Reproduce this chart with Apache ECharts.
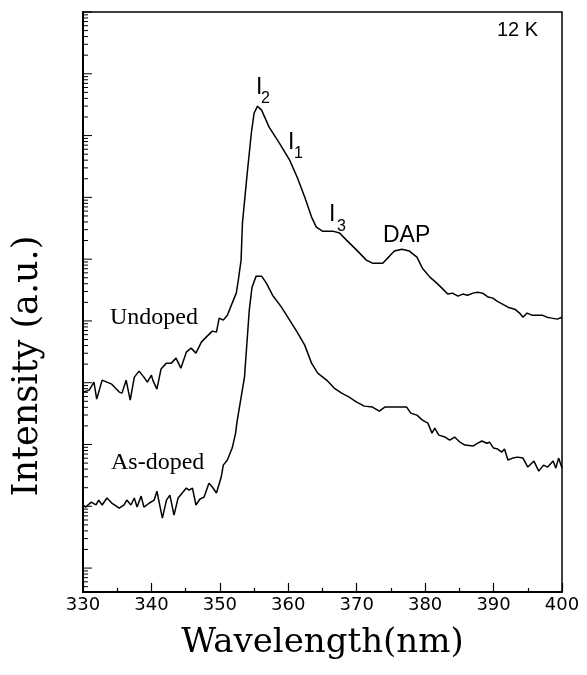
<!DOCTYPE html>
<html>
<head>
<meta charset="utf-8">
<script src="https://cdn.jsdelivr.net/npm/echarts@6/dist/echarts.min.js"></script>
<style>
  html, body { margin: 0; padding: 0; background: #fff; }
  #chart { width: 587px; height: 675px; }
</style>
</head>
<body>
<div id="chart"></div>
<script>
// Undoped sample, 12 K PL spectrum (intensity a.u., log scale)
const undopedWavelength = [
  330.0, 330.9, 331.6, 332.0, 332.8, 333.5, 334.2, 335.3, 335.7, 336.3,
  336.9, 337.5, 338.2, 338.9, 339.4, 340.0, 340.2, 340.8, 341.4, 342.2,
  342.9, 343.6, 344.3, 345.1, 345.8, 346.5, 347.3, 348.0, 348.9, 349.5,
  349.9, 350.5, 351.1, 351.8, 352.4, 352.7, 353.1, 353.3, 354.0, 354.6,
  355.0, 355.5, 356.1, 357.2, 358.7, 360.2, 361.3, 362.4, 363.4, 364.1,
  365.0, 366.5, 367.5, 368.5, 370.0, 371.4, 372.3, 373.8, 374.8, 375.5,
  376.6, 377.7, 378.8, 379.6, 380.7, 381.7, 382.6, 383.3, 384.0, 384.8,
  385.5, 386.2, 387.0, 387.7, 388.4, 389.2, 389.9, 390.5, 391.3, 392.1,
  393.1, 393.8, 394.3, 394.9, 395.6, 397.1, 397.8, 398.5, 399.3, 400.0
];
const undopedIntensity = [
  705, 759, 1023, 543, 1102, 1023, 948, 705, 679, 1102,
  523, 1233, 1542, 1233, 1023, 1327, 1102, 787, 1660, 2075,
  2075, 2500, 1722, 3126, 3631, 3013, 4540, 5470, 6840, 6590,
  11100, 10300, 12400, 19400, 28200, 45700, 96400, 383000, 2.47e6, 1.09e7,
  2.30e7, 2.99e7, 2.58e7, 1.37e7, 7.54e6, 4.00e6, 2.12e6, 1.01e6, 4.79e5, 3.30e5,
  2.84e5, 2.84e5, 2.64e5, 2.03e5, 1.40e5, 9.64e4, 8.61e4, 8.61e4, 1.12e5, 1.35e5,
  1.45e5, 1.35e5, 1.08e5, 7.15e4, 5.12e4, 4.09e4, 3.27e4, 2.72e4, 2.82e4, 2.52e4,
  2.72e4, 2.61e4, 2.82e4, 2.92e4, 2.82e4, 2.43e4, 2.34e4, 2.09e4, 1.87e4, 1.67e4,
  1.55e4, 1.34e4, 1.15e4, 1.34e4, 1.24e4, 1.24e4, 1.15e4, 1.11e4, 1.07e4, 1.15e4
];

// As-doped sample
const asDopedWavelength = [
  330.0, 330.4, 331.2, 331.9, 332.3, 332.8, 333.5, 334.2, 335.3, 336.0,
  336.4, 337.0, 337.5, 337.9, 338.5, 338.9, 339.7, 340.4, 340.8, 341.6,
  342.2, 342.7, 343.3, 343.9, 344.5, 345.1, 345.5, 346.0, 346.5, 347.1,
  347.7, 348.4, 348.9, 349.5, 350.2, 350.5, 351.1, 351.8, 352.3, 352.5,
  353.6, 354.3, 354.7, 355.3, 356.1, 356.8, 357.7, 359.0, 360.2, 361.3,
  362.4, 363.4, 364.3, 365.6, 366.7, 367.8, 368.9, 370.0, 371.1, 372.3,
  373.3, 374.1, 375.2, 377.3, 377.9, 378.8, 379.6, 380.4, 381.0, 381.4,
  382.0, 382.9, 383.6, 384.3, 385.1, 385.8, 387.0, 387.7, 388.3, 389.0,
  389.4, 390.0, 390.6, 391.2, 391.6, 392.1, 392.8, 393.5, 394.3, 395.0,
  395.9, 396.6, 397.3, 397.9, 398.7, 399.1, 399.5, 400.0
];
const asDopedIntensity = [
  10.5, 9.71, 11.7, 10.5, 12.6, 10.5, 13.6, 11.3, 9.35, 10.5,
  12.6, 10.5, 13.6, 9.71, 14.6, 9.71, 11.3, 12.6, 17.6, 6.44,
  12.6, 15.2, 7.21, 13.6, 16.4, 19.7, 18.3, 19.7, 10.5, 13.1,
  14.1, 23.7, 20.5, 16.4, 29.7, 46.4, 56.0, 87.5, 153, 230,
  1233, 15000, 35200, 53100, 53100, 40900, 26100, 16700, 10300, 6590,
  4060, 2075, 1430, 1102, 818, 679, 585, 485, 418, 403,
  347, 403, 403, 403, 322, 299, 248, 222, 153, 184,
  142, 132, 118, 132, 109, 97.8, 94.2, 105, 114, 105,
  109, 87.5, 84.3, 75.3, 84.3, 56.0, 60.3, 62.5, 60.3, 43.1,
  53.9, 37.1, 46.4, 43.1, 53.9, 41.5, 60.3, 41.5
];

// log axis range and tick marks (no tick labels on the intensity axis)
const yMin = 0.41;
const yMax = 1e9;
const yMajorTicks = [1, 10, 100, 1e3, 1e4, 1e5, 1e6, 1e7, 1e8, 1e9];
const yMinorSteps = [2, 3, 4, 5, 6, 7, 8, 9];

const tickData = [];
yMajorTicks.forEach((v) => tickData.push([330, v, 9]));
[0.1].concat(yMajorTicks).forEach((d) => {
  yMinorSteps.forEach((s) => {
    const v = d * s;
    if (v > yMin && v < yMax) tickData.push([330, v, 5]);
  });
});

const pairs = (xs, ys) => xs.map((x, i) => [x, ys[i]]);

const chart = echarts.init(document.getElementById('chart'));

const sans = 'Liberation Sans, Arial, sans-serif';
const serif = 'Liberation Serif, Times New Roman, serif';

function txt(text, x, y, size, family, align) {
  return {
    type: 'text',
    x: x,
    y: y,
    silent: true,
    style: {
      text: text,
      fill: '#000',
      font: size + 'px ' + family,
      textAlign: align || 'left',
      textVerticalAlign: 'middle',
    },
  };
}

const option = {
  backgroundColor: '#fff',
  animation: false,
  grid: {
    left: 83,
    right: 25,
    top: 12,
    bottom: 83,
    show: true,
    borderColor: '#000',
    borderWidth: 1.5,
  },
  xAxis: {
    type: 'value',
    min: 330,
    max: 400,
    interval: 10,
    name: 'Wavelength(nm)',
    nameLocation: 'middle',
    nameGap: 34,
    nameTextStyle: { fontFamily: 'DejaVu Serif', fontSize: 34, color: '#000' },
    axisLine: { lineStyle: { color: '#000', width: 2 } },
    axisTick: { inside: true, length: 9, lineStyle: { color: '#000', width: 1.2 } },
    minorTick: { show: true, splitNumber: 2, length: 4, lineStyle: { color: '#000', width: 1.2 } },
    axisLabel: { color: '#000', fontFamily: 'DejaVu Sans', fontSize: 18, margin: 4 },
    splitLine: { show: false },
  },
  yAxis: {
    type: 'log',
    logBase: 10,
    min: yMin,
    max: yMax,
    name: 'Intensity (a.u.)',
    nameLocation: 'middle',
    nameGap: 38,
    nameTextStyle: {
      fontFamily: 'DejaVu Serif',
      fontSize: 35,
      color: '#000',
      padding: [0, 128, 0, 0],
    },
    axisLine: { show: true, lineStyle: { color: '#000', width: 2 } },
    axisTick: { show: false },
    axisLabel: { show: false },
    splitLine: { show: false },
  },
  graphic: [
    txt('12 K', 497, 30, 20, sans),
    txt('I', 256, 88, 23, sans),
    txt('2', 261, 99, 16, sans),
    txt('I', 288, 143, 23, sans),
    txt('1', 294, 154, 16, sans),
    txt('I', 329, 215, 23, sans),
    txt('3', 337, 227, 16, sans),
    txt('DAP', 383, 236, 23, sans),
    txt('Undoped', 110, 318, 24, serif),
    txt('As-doped', 111, 463, 24, serif),
  ],
  series: [
    {
      name: 'Undoped',
      type: 'line',
      data: pairs(undopedWavelength, undopedIntensity),
      showSymbol: false,
      lineStyle: { color: '#000', width: 1.5 },
    },
    {
      name: 'As-doped',
      type: 'line',
      data: pairs(asDopedWavelength, asDopedIntensity),
      showSymbol: false,
      lineStyle: { color: '#000', width: 1.5 },
    },
    {
      // inward tick marks of the log intensity axis
      type: 'custom',
      silent: true,
      clip: false,
      data: tickData,
      renderItem(params, api) {
        const p = api.coord([api.value(0), api.value(1)]);
        return {
          type: 'line',
          shape: { x1: p[0], y1: p[1], x2: p[0] + api.value(2), y2: p[1] },
          style: { stroke: '#000', lineWidth: 1 },
        };
      },
    },
  ],
};

chart.setOption(option);
</script>
</body>
</html>
